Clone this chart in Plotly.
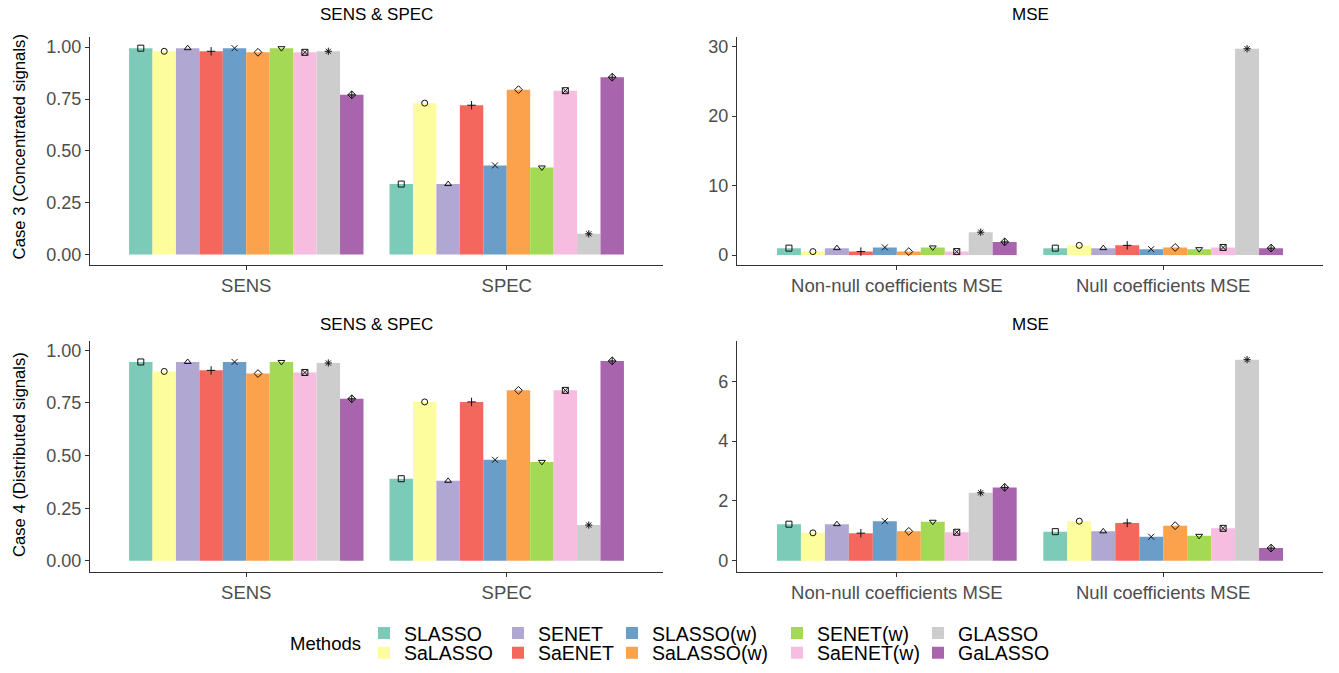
import plotly.graph_objects as go

W, H = 1339, 673

methods = ["SLASSO", "SaLASSO", "SENET", "SaENET", "SLASSO(w)", "SaLASSO(w)",
           "SENET(w)", "SaENET(w)", "GLASSO", "GaLASSO"]
colors = ["#7ccab8", "#fdfd9d", "#b0a8d2", "#f4675c", "#6a9ec9", "#fca24c",
          "#a4d955", "#f6bde0", "#cdcdcd", "#a964ae"]
symbols = ["square-open", "circle-open", "triangle-up-open", "cross-thin-open",
           "x-thin-open", "diamond-open", "triangle-down-open", "square-x-open",
           "asterisk-open", "diamond-cross-open"]

cats_ss = ["SENS", "SPEC"]
cats_mse = ["Non-null coefficients MSE", "Null coefficients MSE"]

# Case 3 (Concentrated signals)
c3_sens = [0.995, 0.980, 0.995, 0.980, 0.995, 0.975, 0.995, 0.975, 0.980, 0.770]
c3_spec = [0.340, 0.730, 0.340, 0.720, 0.430, 0.795, 0.420, 0.790, 0.100, 0.855]
c3_mse_nonnull = [1.00, 0.50, 1.00, 0.50, 1.10, 0.50, 1.10, 0.50, 3.30, 1.90]
c3_mse_null = [1.00, 1.40, 1.00, 1.40, 0.85, 1.10, 0.85, 1.10, 29.70, 1.00]

# Case 4 (Distributed signals)
c4_sens = [0.945, 0.900, 0.945, 0.905, 0.945, 0.890, 0.945, 0.895, 0.940, 0.770]
c4_spec = [0.390, 0.755, 0.380, 0.755, 0.480, 0.810, 0.470, 0.810, 0.170, 0.950]
c4_mse_nonnull = [1.22, 0.93, 1.22, 0.92, 1.32, 0.98, 1.30, 0.95, 2.27, 2.45]
c4_mse_null = [0.97, 1.32, 0.98, 1.26, 0.80, 1.17, 0.83, 1.08, 6.72, 0.42]

panels = [
    ("x", "y", c3_sens, c3_spec),
    ("x2", "y2", c3_mse_nonnull, c3_mse_null),
    ("x3", "y3", c4_sens, c4_spec),
    ("x4", "y4", c4_mse_nonnull, c4_mse_null),
]

n = len(methods)
dodge = 0.9
bw = dodge / n

legend_ids = ["legend"] + ["legend%d" % i for i in range(2, n + 1)]

fig = go.Figure()
for pi, (xa, ya, g1, g2) in enumerate(panels):
    for j, m in enumerate(methods):
        off = (j - (n - 1) / 2) * bw
        xs = [0 + off, 1 + off]
        ys = [g1[j], g2[j]]
        fig.add_trace(go.Bar(
            x=xs, y=ys, width=bw, marker_color=colors[j], marker_line_width=0,
            name=m, legendgroup=m, showlegend=(pi == 0),
            legend=legend_ids[j], xaxis=xa, yaxis=ya,
            hovertemplate=m + ": %{y}<extra></extra>"))
        fig.add_trace(go.Scatter(
            x=xs, y=ys, mode="markers", xaxis=xa, yaxis=ya,
            marker=dict(symbol=symbols[j], size=6, color="#111111",
                        line=dict(color="#111111", width=1)),
            legendgroup=m, showlegend=False, hoverinfo="skip"))

def px_x(p):
    return p / W

def px_y(p):
    return 1 - p / H

xdom_l = [px_x(90), px_x(663)]
xdom_r = [px_x(737), px_x(1323)]
ydom_t = [px_y(267), px_y(37)]
ydom_b = [px_y(576), px_y(344)]

FAM = "Liberation Sans, Arial"

def axline(size):
    return dict(showline=True, linecolor="#333333", linewidth=1.2, ticks="outside",
                ticklen=4, tickcolor="#333333", tickwidth=1, showgrid=False,
                zeroline=False, tickfont=dict(family=FAM, size=size, color="#4d4d4d"))

def xax(dom, anchor, labels):
    return dict(domain=dom, anchor=anchor, range=[-0.6, 1.6], tickvals=[0, 1],
                ticktext=labels, **axline(18.5))

def yax(dom, anchor, rng, tv, fmt):
    return dict(domain=dom, anchor=anchor, range=rng, tickvals=tv,
                tickformat=fmt, **axline(18))

fig.update_layout(
    width=W, height=H, margin=dict(l=0, r=0, t=0, b=0),
    plot_bgcolor="white", paper_bgcolor="white", barmode="overlay",
    font=dict(family=FAM, color="#000000"),
    xaxis=xax(xdom_l, "y", cats_ss),
    yaxis=yax(ydom_t, "x", [-0.0502, 1.0502], [0, 0.25, 0.5, 0.75, 1.0], ".2f"),
    xaxis2=xax(xdom_r, "y2", cats_mse),
    yaxis2=yax(ydom_t, "x2", [-1.43, 31.43], [0, 10, 20, 30], "d"),
    xaxis3=xax(xdom_l, "y3", cats_ss),
    yaxis3=yax(ydom_b, "x3", [-0.0519, 1.0425], [0, 0.25, 0.5, 0.75, 1.0], ".2f"),
    xaxis4=xax(xdom_r, "y4", cats_mse),
    yaxis4=yax(ydom_b, "x4", [-0.37, 7.33], [0, 2, 4, 6], "d"),
)

# legend: one small legend per entry, laid out in five columns and two rows
col_centers = [383, 517, 631, 796, 937]
row_centers = [638, 658]
for j, lg in enumerate(legend_ids):
    cx = col_centers[j // 2]
    cy = row_centers[j % 2]
    fig.update_layout({lg: dict(
        x=px_x(cx - 19), y=px_y(cy), xanchor="left", yanchor="middle",
        orientation="v", tracegroupgap=0, bgcolor="rgba(0,0,0,0)",
        font=dict(family=FAM, size=19.5, color="#000000"),
        itemclick=False, itemdoubleclick=False)})

ann = []
for xc, yc, t in [(376, 15, "SENS & SPEC"), (1030, 15, "MSE"),
                  (376, 327, "SENS & SPEC"), (1030, 327, "MSE")]:
    ann.append(dict(x=px_x(xc), y=px_y(yc), xref="paper", yref="paper", text=t,
                    showarrow=False, font=dict(family=FAM, size=17, color="#000000"),
                    xanchor="center", yanchor="middle"))
ylabfont = dict(family=FAM, size=16.7, color="#000000")
ann.append(dict(x=px_x(19.5), y=px_y(148), xref="paper", yref="paper",
                text="Case 3 (Concentrated signals)", textangle=-90, showarrow=False,
                font=ylabfont, xanchor="center", yanchor="middle"))
ann.append(dict(x=px_x(19.5), y=px_y(458), xref="paper", yref="paper",
                text="Case 4 (Distributed signals)", textangle=-90, showarrow=False,
                font=ylabfont, xanchor="center", yanchor="middle"))
ann.append(dict(x=px_x(363), y=px_y(648), xref="paper", yref="paper",
                text="Methods", showarrow=False,
                font=dict(family=FAM, size=18.5, color="#000000"),
                xanchor="right", yanchor="middle"))
fig.update_layout(annotations=ann)

fig.write_html("out.html", config={"displayModeBar": False},
               post_script="document.body.style.margin='0px';document.body.style.overflow='hidden';")
